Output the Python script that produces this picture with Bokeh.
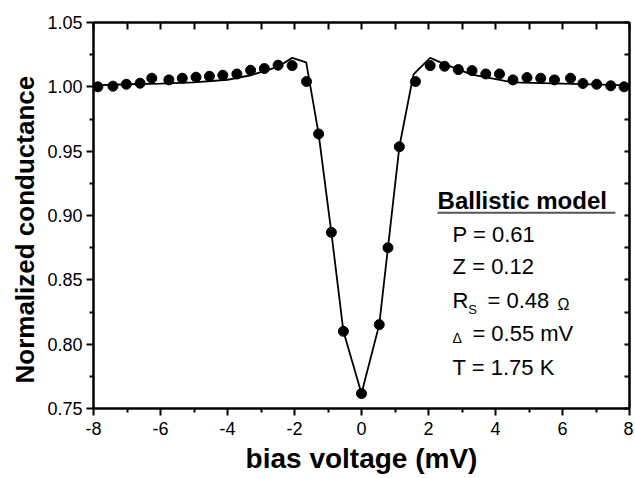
from bokeh.plotting import figure
from bokeh.models import LinearAxis, FixedTicker, Range1d, Label, Title, NumeralTickFormatter, PrintfTickFormatter
from bokeh.embed import file_html
from bokeh.resources import INLINE

# measured data points
v_data = [-7.87, -7.42, -7.02, -6.61, -6.26, -5.75, -5.35, -4.94, -4.54, -4.14, -3.72, -3.31,
          -2.90, -2.49, -2.07, -1.64, -1.28, -0.90, -0.54, 0.0, 0.53, 0.79, 1.13, 1.61, 2.05,
          2.48, 2.89, 3.30, 3.71, 4.12, 4.52, 4.94, 5.35, 5.76, 6.24, 6.61, 7.02, 7.44, 7.84]
g_data = [1.000, 1.0005, 1.002, 1.0028, 1.0067, 1.0054, 1.0067, 1.0075, 1.0082, 1.009, 1.010,
          1.0129, 1.0142, 1.0168, 1.0165, 1.0041, 0.9634, 0.8869, 0.810, 0.7616, 0.8152, 0.875,
          0.9534, 1.0041, 1.0165, 1.016, 1.0134, 1.0126, 1.010, 1.010, 1.0054, 1.0072, 1.0067,
          1.0054, 1.0067, 1.0026, 1.002, 1.0008, 1.000]

# ballistic model curve
v_model = [-8, -7, -6, -5, -4, -3.3, -2.5, -2.07, -1.65, -1.28, -0.90, -0.54, 0.0, 0.53, 0.79,
           1.13, 1.55, 1.70, 2.05, 2.5, 3.3, 4.5, 6, 8]
g_model = [1.0012, 1.002, 1.0025, 1.0035, 1.0055, 1.009, 1.0155, 1.0225, 1.019, 0.9634, 0.8869,
           0.810, 0.7616, 0.8152, 0.875, 0.9534, 1.0095, 1.0135, 1.0225, 1.0175, 1.0095, 1.0035,
           1.0025, 1.0012]

x_ticks = [-8, -6, -4, -2, 0, 2, 4, 6, 8]
x_minor = [-7, -5, -3, -1, 1, 3, 5, 7]
x_top = [-8, -7, -6, -5, -4, -3, -2, -1, 0, 1, 2, 3, 4, 5, 6, 7, 8]
y_ticks = [0.75, 0.80, 0.85, 0.90, 0.95, 1.00, 1.05]
y_minor = [0.775, 0.825, 0.875, 0.925, 0.975, 1.025]
y_right = [0.75, 0.775, 0.80, 0.825, 0.85, 0.875, 0.90, 0.925, 0.95, 0.975, 1.00, 1.025, 1.05]

x_title = "bias voltage (mV)"
y_title = "Normalized conductance"
legend_title = "Ballistic model"

FONT = "Liberation Sans"

p = figure(width=633, height=476, output_backend="svg", toolbar_location=None,
           x_range=Range1d(-8, 8), y_range=Range1d(0.75, 1.05),
           min_border_left=93, min_border_right=4, min_border_top=22, min_border_bottom=68)
p.xgrid.visible = False
p.ygrid.visible = False
p.outline_line_color = "black"
p.outline_line_width = 2
p.background_fill_color = "white"
p.border_fill_color = "white"

# bottom axis
xa = p.xaxis[0]
xa.ticker = FixedTicker(ticks=x_ticks, minor_ticks=x_minor)
xa.formatter = PrintfTickFormatter(format="%d")
xa.major_tick_in = 0
xa.major_tick_out = 7
xa.minor_tick_in = 0
xa.minor_tick_out = 4
xa.major_tick_line_width = 2
xa.minor_tick_line_width = 2
xa.axis_line_width = 2
xa.major_label_text_font = FONT
xa.major_label_text_font_size = "18px"
xa.major_label_text_color = "black"
xa.major_label_standoff = 6
xa.axis_label = x_title
xa.axis_label_text_font = FONT
xa.axis_label_text_font_style = "bold"
xa.axis_label_text_font_size = "28px"
xa.axis_label_text_color = "black"
xa.axis_label_standoff = 5

# left axis
ya = p.yaxis[0]
ya.ticker = FixedTicker(ticks=y_ticks, minor_ticks=y_minor)
ya.formatter = NumeralTickFormatter(format="0.00")
ya.major_tick_in = 0
ya.major_tick_out = 7
ya.minor_tick_in = 0
ya.minor_tick_out = 4
ya.major_tick_line_width = 2
ya.minor_tick_line_width = 2
ya.axis_line_width = 2
ya.major_label_text_font = FONT
ya.major_label_text_font_size = "18px"
ya.major_label_text_color = "black"
ya.major_label_standoff = 4

# y axis title as a side title, starting a little above the frame bottom
yt = Title(text=y_title, align="left", offset=25, standoff=10, text_font=FONT,
           text_font_style="bold", text_font_size="26px", text_color="black")
p.add_layout(yt, "left")

# top axis: inward ticks only
ta = LinearAxis(ticker=FixedTicker(ticks=[], minor_ticks=x_top))
ta.minor_tick_in = 7
ta.minor_tick_out = 0
ta.major_tick_in = 0
ta.major_tick_out = 0
ta.major_label_standoff = 0
ta.axis_label_standoff = 0
ta.minor_tick_line_width = 2
ta.axis_line_width = 2
p.add_layout(ta, "above")

# right axis: inward ticks only
ra = LinearAxis(ticker=FixedTicker(ticks=[], minor_ticks=y_right))
ra.minor_tick_in = 5
ra.minor_tick_out = 0
ra.major_tick_in = 0
ra.major_tick_out = 0
ra.major_label_standoff = 0
ra.axis_label_standoff = 0
ra.minor_tick_line_width = 2
ra.axis_line_width = 2
p.add_layout(ra, "right")

# model line and data
p.line(v_model, g_model, line_color="black", line_width=1.8)
p.scatter(v_data, g_data, marker="circle", size=10, fill_color="black", line_color="black")

# legend block
def lab(x, y, text, size, bold=False):
    p.add_layout(Label(x=x, y=y, text=text, text_font=FONT, text_font_size=size,
                       text_font_style="bold" if bold else "normal", text_color="black"))

lab(2.27, 0.9008, legend_title, "24px", bold=True)
p.segment(x0=[2.27], y0=[0.9022], x1=[7.58], y1=[0.9022], line_color="#555555", line_width=2)

px = 2.72
fs = "22px"
lab(px, 0.8759, "P = 0.61", fs)
lab(px, 0.8503, "Z = 0.12", fs)
lab(px, 0.8246, "R", fs)
lab(px + 0.47, 0.8214, "S", "13px")
lab(px + 1.04, 0.8246, "= 0.48", fs)
lab(px + 3.13, 0.8246, "Ω", "16px")
lab(px, 0.7983, "Δ", "14px")
lab(px + 0.59, 0.7983, "= 0.55 mV", fs)
lab(px, 0.7718, "T = 1.75 K", fs)

open("out.html", "w").write(file_html(p, INLINE))
